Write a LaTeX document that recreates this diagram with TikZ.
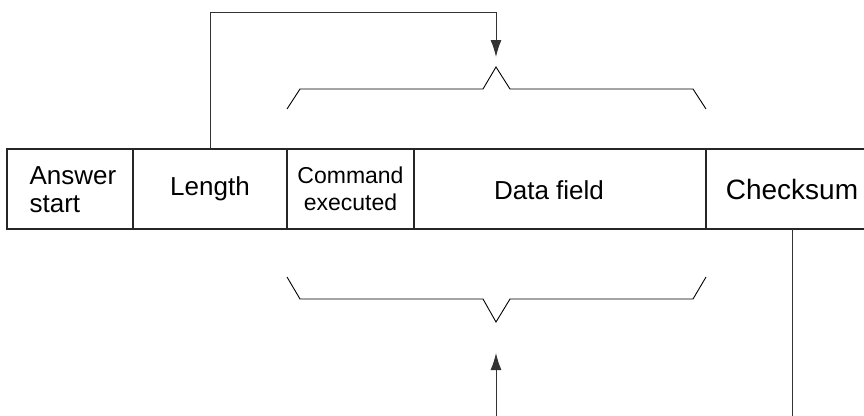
\documentclass[tikz,border=0pt]{standalone}
\usepackage{fontspec}
\setmainfont{Liberation Sans}
\usetikzlibrary{arrows.meta}
\begin{document}
\begin{tikzpicture}[x=1pt,y=-1pt,
  cell/.style={draw=black!85, line width=1.2pt, inner sep=0pt, outer sep=0pt, minimum height=80pt, align=center},
  conn/.style={draw=black!80, line width=1pt},
  brace/.style={draw=black, line width=0.9pt, line join=miter},
  tip/.style={-{Latex[length=17pt,width=11pt]}}
]
\useasboundingbox (0,0) rectangle (864,415);
\node[cell, minimum width=126pt] (ans) at (70,189) {};
\node[inner sep=0pt, align=left, font=\fontsize{26}{28}\selectfont] (anstext) at (73,190) {Answer\\start};
\node[cell, minimum width=154pt, font=\fontsize{26}{28}\selectfont] (len) at (210,189) {Length};
\node[cell, minimum width=127pt, font=\fontsize{23}{27}\selectfont] (cmd) at (350.5,189) {Command\\executed};
\node[cell, minimum width=292pt] (data) at (560,189) {};
\node[inner sep=0pt, font=\fontsize{26}{28}\selectfont] (datatext) at (549,190) {Data field};
\node[cell, minimum width=172pt, font=\fontsize{28}{30}\selectfont] (chk) at (792,189) {Checksum};
% top connector
\coordinate (ttip) at (496,57);
\coordinate (tcorner) at (496,12);
\draw[conn, tip] (len.north) |- (tcorner) -- (ttip);
% top brace
\coordinate (tb1) at (287,109);
\coordinate (tb2) at (300,89);
\coordinate (tb3) at (483,89);
\coordinate (tb4) at (496,67);
\coordinate (tb5) at (510,89);
\coordinate (tb6) at (693,89);
\coordinate (tb7) at (706,109);
\draw[brace] (tb1) -- (tb2) -- (tb3) -- (tb4) -- (tb5) -- (tb6) -- (tb7);
% bottom brace
\coordinate (bb1) at (287,277);
\coordinate (bb2) at (300,299);
\coordinate (bb3) at (483,299);
\coordinate (bb4) at (496,322);
\coordinate (bb5) at (510,299);
\coordinate (bb6) at (693,299);
\coordinate (bb7) at (706,277);
\draw[brace] (bb1) -- (bb2) -- (bb3) -- (bb4) -- (bb5) -- (bb6) -- (bb7);
% bottom connectors
\coordinate (btip) at (496,353);
\coordinate (bstart) at (496,425);
\coordinate (cend) at (chk.south |- bstart);
\draw[conn, tip] (bstart) -- (btip);
\draw[conn] (chk.south) -- (cend);
\end{tikzpicture}
\end{document}
